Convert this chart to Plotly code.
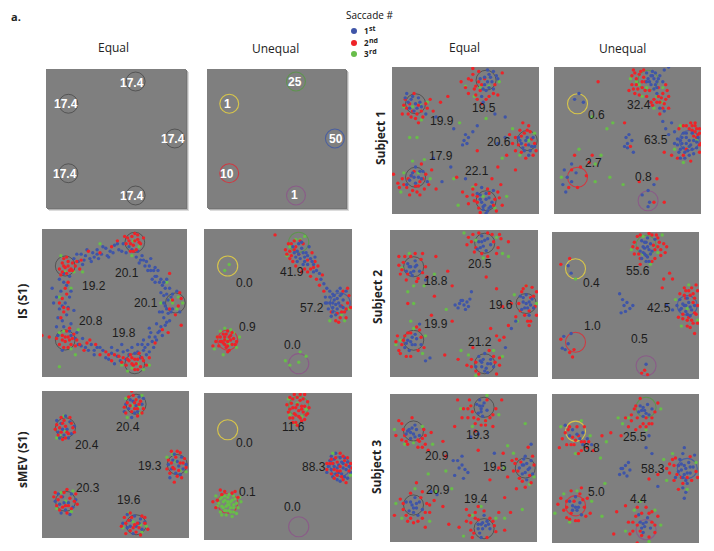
import plotly.graph_objects as go

W, H = 714, 551
BLUE, RED, GREEN = "#3f55a8", "#ee2328", "#68bd4a"
GREY = "#7f7f7f"

TARGETS = [(64, 91), (16, 75), (92, 50), (16, 25), (64, 9)]
TARGET_COLOURS = ["#5f9350", "#d8c64a", "#4a5fa0", "#cf3a42", "#8a5c88"]

IDEAL_EQ_LABELS = ["17.4", "17.4", "17.4", "17.4", "17.4"]
IDEAL_UN_LABELS = ["25", "1", "50", "10", "1"]
IS_EQ_LABELS = ["20.1", "19.2", "20.1", "20.8", "19.8"]
IS_UN_LABELS = ["41.9", "0.0", "57.2", "0.9", "0.0"]
SMEV_EQ_LABELS = ["20.4", "20.4", "19.3", "20.3", "19.6"]
SMEV_UN_LABELS = ["11.6", "0.0", "88.3", "0.1", "0.0"]
S1_EQ_LABELS = ["19.5", "19.9", "20.6", "17.9", "22.1"]
S1_UN_LABELS = ["32.4", "0.6", "63.5", "2.7", "0.8"]
S2_EQ_LABELS = ["20.5", "18.8", "19.6", "19.9", "21.2"]
S2_UN_LABELS = ["55.6", "0.4", "42.5", "1.0", "0.5"]
S3_EQ_LABELS = ["19.3", "20.9", "19.5", "20.9", "19.4"]
S3_UN_LABELS = ["25.5", "6.8", "58.3", "5.0", "4.4"]

IS_EQ_B = [(22,80),(25,78),(27,83),(30,82),(33,80),(28,76),(35,84),(38,86),(41,83),(44,87),(47,85),(50,89),(53,86),(56,90),(34,78),(39,80),(46,81),(60,88),(58,84),(66,85),(69,82),(72,78),(74,75),(77,72),(70,79),(73,72),(79,68),(81,64),(83,62),(85,60),(80,72),(76,66),(84,55),(87,52),(82,57),(88,60),(90,46),(87,43),(84,40),(86,37),(82,34),(80,30),(83,28),(78,27),(76,24),(73,22),(75,30),(79,36),(70,18),(72,15),(77,20),(68,13),(74,33),(60,15),(56,17),(58,12),(52,18),(54,11),(48,16),(50,9),(62,20),(64,16),(44,13),(42,18),(38,20),(34,22),(30,20),(28,26),(25,22),(36,15),(10,34),(14,38),(17,42),(12,46),(16,50),(19,54),(13,58),(17,62),(8,50),(20,36),(12,66),(15,70),(7,60),(22,45),(85,48),(88,38),(81,44),(78,74),(75,80),(67,77),(90,56),(86,66),(66,22),(70,25),(55,22),(48,20),(24,30),(20,28),(11,28),(14,18),(95,44),(93,58),
(24,83),(29,79),(31,86),(36,81),(42,88),(45,82),(49,84),(52,90),(55,85),(62,86),(68,79),(71,75),(75,72),(78,68),(82,66),(84,64),(78,64),(86,56),(89,54),(84,50),(86,46),(89,44),(83,44),(85,35),(81,31),(79,25),(74,27),(71,20),(74,17),(69,22),(66,17),(59,18),(52,14),(46,12),(40,20),(36,18),(32,18),(27,21),(23,26),(19,31),(15,34),(11,40),(18,47),(14,48),(10,54),(20,58),(15,64),(19,68),(38,83),(65,81)]
IS_EQ_R = [(14,77),(16,74),(18,78),(20,73),(12,73),(17,70),(21,77),(15,80),(23,75),(19,72),(13,69),(26,73),(60,92),(63,89),(66,93),(62,95),(68,90),(58,90),(65,86),(61,85),(70,94),(57,95),(64,97),(14,28),(16,24),(18,27),(20,22),(12,22),(17,31),(22,29),(24,25),(15,20),(19,33),(26,22),(10,26),(60,11),(63,8),(66,12),(64,5),(68,7),(61,15),(58,8),(70,11),(67,16),(56,13),(72,8),(53,14),(48,11),(44,17),(40,15),(90,52),(94,48),(96,53),(88,46),(92,42),(95,57),(16,60),(14,53),(18,46),(13,40),(18,64),(15,44),(40,84),(32,85),(27,79),(48,88),(78,23),(83,32),(87,30),(74,13),(33,25),(29,18),(5,27),(96,35),(88,70),(52,92),(0,28),
(15,75),(18,75),(21,72),(24,78),(17,81),(14,71),(61,90),(64,92),(67,91),(59,94),(63,85),(66,96),(16,27),(19,25),(21,26),(14,25),(23,21),(18,20),(62,9),(65,9),(62,13),(59,12),(66,5),(69,13),(64,12),(55,10),(50,15),(46,15),(15,47),(17,56),(12,50),(37,22),(31,23)]
IS_EQ_G = [(16,71),(22,71),(13,82),(28,71),(63,92),(60,88),(67,88),(62,82),(15,31),(12,30),(20,19),(25,32),(23,15),(62,6),(66,9),(59,4),(70,5),(55,8),(12,7),(90,50),(94,54),(88,52),(93,46),(97,50),(86,64),(82,50),(12,54),(20,60),(40,90),(74,8)]

IS_UN_B = [(60,88),(63,85),(66,87),(69,84),(62,81),(65,80),(68,81),(72,80),(70,76),(67,76),(74,76),(64,90),(71,88),(76,72),(78,70),(74,71),(79,66),(81,63),(83,60),(85,58),(87,56),(90,58),(92,55),(88,52),(85,50),(91,50),(94,52),(90,46),(87,47),(82,54),(84,46),(94,47),(89,42),(92,60),(96,58),(82,50),(86,41),
(61,84),(64,83),(67,84),(70,82),(73,78),(66,91),(68,78),(63,78),(75,81),(88,55),(90,53),(87,50),(92,48),(85,54),(93,56),(89,49),(83,50),(87,44)]
IS_UN_R = [(57,90),(58,85),(61,92),(64,83),(60,78),(67,90),(70,79),(73,84),(75,78),(72,73),(77,75),(59,82),(55,86),(68,73),(72,68),(76,66),(80,69),(78,62),(81,58),(93,48),(97,50),(95,44),(89,38),(92,40),(98,55),(96,40),(86,44),(97,60),(94,58),(48,96),(14,27),(16,24),(18,28),(12,24),(15,20),(19,22),(10,21),(20,26),(13,29),(17,18),(8,24),(16,31),(22,24),(14,22),(18,25),(11,27),(16,17),(6,21),
(59,90),(62,88),(65,92),(61,86),(56,83),(58,80),(62,75),(66,71),(70,71),(74,74),(90,43),(93,44),(96,46),(99,47),(91,37),(14,25),(17,27),(13,23),(16,21),(19,30),(11,24),(15,29),(21,22),(9,27)]
IS_UN_G = [(62,93),(58,88),(65,93),(56,82),(68,95),(93,42),(98,46),(85,38),(95,38),(15,25),(20,30),(11,31),(17,22),(22,20),(9,27),(24,27),(7,19),(14,33),(18,32),(13,15),(17,76),(14,72),(58,8),(64,10),(69,14),(55,11),(65,17)]

SMEV_EQ_B = [(60,94),(64,90),(66,96),(59,88),(63,85),(68,91),(13,78),(17,74),(15,70),(19,79),(11,72),(20,71),(89,53),(93,49),(95,55),(91,44),(96,47),(88,47),(14,28),(18,24),(16,19),(20,30),(21,21),(12,23),(60,12),(64,8),(67,13),(58,7),(68,6),(63,15),
(57,91),(62,93),(65,86),(69,95),(56,86),(61,82),(10,80),(14,74),(18,68),(22,76),(16,83),(12,68),(86,50),(92,52),(98,50),(90,57),(94,43),(87,41),(11,30),(15,24),(23,26),(19,16),(13,17),(9,25),(55,10),(60,8),(66,10),(70,11),(62,3),(58,16)]
SMEV_EQ_R = [(58,92),(62,97),(67,93),(61,86),(65,88),(56,89),(69,88),(63,92),(59,96),(12,75),(15,80),(18,71),(14,67),(21,75),(10,77),(16,76),(19,82),(13,72),(88,51),(91,55),(94,51),(97,54),(90,47),(92,42),(98,48),(87,44),(94,58),(11,26),(15,31),(19,27),(22,25),(14,21),(17,17),(18,22),(10,22),(23,30),(57,10),(61,14),(65,10),(68,15),(60,5),(64,4),(70,10),(56,14),(63,9),
(60,90),(64,94),(66,91),(57,85),(63,88),(68,85),(61,100),(65,83),(14,78),(17,72),(11,70),(20,78),(16,68),(9,74),(22,72),(13,82),(86,53),(89,48),(93,46),(96,51),(92,59),(85,47),(95,41),(90,38),(88,59),(13,28),(16,22),(20,20),(12,19),(8,28),(17,33),(24,23),(9,31),(59,12),(62,7),(66,7),(70,14),(54,8),(60,17),(67,2),(72,6),(57,3)]
SMEV_EQ_G = [(61,90),(66,89),(57,95),(68,97),(64,94),(16,73),(20,78),(12,70),(91,52),(94,46),(89,57),(16,25),(20,18),(13,31),(62,11),(67,9),(59,17),(55,7),(58,82),(67,85),(15,83),(10,68),(85,55),(98,45),(10,20),(21,32),(68,4),(71,8)]

SMEV_UN_B = [(87,52),(90,49),(93,53),(96,48),(89,45),(93,45),(86,48),(92,56),(97,53),(95,43),(88,55),(84,50),(91,51),(98,50),(94,49),(90,41),
(85,54),(88,50),(91,46),(95,56),(99,46),(87,43),(83,46),(94,52),(89,59),(97,42),(92,40),(86,57)]
SMEV_UN_R = [(59,93),(62,90),(65,95),(68,91),(61,86),(64,84),(67,87),(58,89),(70,94),(63,97),(60,83),(66,81),(70,86),(56,92),(64,88),(67,96),(60,96),(62,80),(66,91),(85,52),(88,48),(92,50),(95,54),(98,47),(90,44),(86,45),(94,41),(89,56),(96,51),(92,47),(83,48),(92,59),(99,52),(96,39),(12,31),(9,27),(19,32),(23,29),(8,22),(14,33),
(57,87),(60,90),(63,92),(66,89),(69,85),(62,85),(65,83),(58,83),(71,90),(61,99),(65,99),(68,99),(58,97),(60,80),(68,82),(63,78),(86,55),(90,47),(93,43),(97,56),(87,52),(83,52),(90,53),(100,49),(94,57),(88,42),(6,26),(11,34),(21,33)]
SMEV_UN_G = [(63,93),(58,85),(69,89),(57,96),(66,84),(14,27),(16,24),(18,26),(12,23),(17,20),(20,24),(14,20),(10,25),(21,28),(16,29),(18,22),(13,26),(23,22),(11,19),(20,19),(15,17),(25,26),(8,30),(17,31),(15,23),(12,29),(20,30),(19,16),(62,79),(87,59),(99,44),
(16,26),(13,22),(19,27),(11,28),(22,25),(18,19),(14,30),(9,23),(24,29),(15,20),(17,24),(20,22),(12,17),(22,18)]

S1_EQ_B = [(60,92),(63,88),(66,95),(68,90),(64,84),(61,80),(69,85),(65,98),(71,94),(62,76),(13,78),(16,75),(12,72),(18,79),(15,70),(20,73),(10,82),(23,68),(30,66),(88,48),(92,52),(95,46),(90,43),(96,52),(86,52),(93,40),(14,28),(18,25),(21,29),(12,23),(16,32),(10,20),(24,22),(34,22),(28,38),(40,32),(60,10),(63,6),(66,11),(62,3),(64,14),(58,14),(67,5),(61,18),(69,16),(50,24),(49,50),(51,48),(48,47),(52,52),(50,54),(55,56),(58,60),(42,58),(70,68),(77,66),(77,52),(72,48),
(65,90),(67,93),(69,97),(63,93),(62,85),(66,86),(72,92),(11,76),(14,80),(17,72),(9,79),(19,76),(89,45),(93,47),(91,50),(94,43),(87,50),(97,46),(15,25),(19,29),(13,26),(20,24),(16,21),(61,8),(64,10),(62,5),(65,2),(68,8),(60,13),(64,0.5),(66,4)]
S1_EQ_R = [(54,91),(57,87),(60,84),(55,95),(63,92),(58,78),(66,80),(70,88),(52,82),(72,81),(59,97),(47,90),(75,96),(10,72),(13,66),(17,68),(20,70),(24,72),(9,78),(15,82),(7,68),(26,78),(18,62),(33,76),(38,80),(86,47),(90,55),(94,56),(97,48),(84,43),(87,57),(91,38),(98,43),(80,54),(89,62),(78,40),(72,32),(10,18),(13,26),(16,19),(19,22),(23,27),(7,24),(12,13),(17,15),(22,17),(1,27),(4,21),(27,30),(20,34),(55,13),(58,8),(65,17),(70,10),(52,7),(72,15),(57,20),(68,24),(48,15),(75,6),(60,1),(74,20),(44,25),(84,30),(30,17),(58,43),
(56,85),(59,90),(52,92),(55,99),(61,88),(64,78),(69,82),(50,86),(57,81),(61,75),(12,75),(14,70),(18,74),(21,66),(11,68),(16,65),(23,75),(8,74),(28,70),(88,53),(92,57),(95,51),(88,42),(84,52),(93,60),(82,48),(91,47),(96,40),(11,24),(14,16),(18,19),(21,24),(8,20),(25,20),(15,29),(19,13),(5,18),(56,9),(59,4),(69,6),(73,11),(55,17),(71,2),(66,14),(51,12),(58,12)]
S1_EQ_G = [(60,86),(66,87),(56,80),(73,90),(50,87),(19,75),(14,73),(24,76),(8,73),(20,64),(93,50),(97,55),(87,40),(82,58),(14,36),(18,28),(26,24),(8,28),(22,37),(6,15),(62,12),(70,4),(55,18),(78,12),(45,6),(12,52),(17,52),(46,62),(64,65),(75,38),(42,24)]

S1_UN_B = [(64,92),(67,94),(70,90),(66,88),(69,96),(72,94),(63,96),(74,90),(68,85),(75,98),(78,100),(70,82),(72,72),(75,70),(74,63),(76,58),(78,54),(80,62),(82,56),(86,50),(90,52),(93,47),(88,45),(85,42),(91,43),(95,50),(97,45),(88,55),(94,55),(92,40),(84,47),(89,38),(98,52),(49,52),(50,48),(48,46),(51,54),(53,50),(54,42),(50,45),(17,82),(14,78),(20,76),(7,30),(9,25),(12,22),(15,28),(6,20),(12,34),(8,15),(60,13),(65,8),(64,5),(68,20),(64,16),
(65,90),(68,92),(71,92),(66,94),(69,88),(63,90),(67,97),(70,86),(87,48),(90,48),(92,50),(86,44),(94,44),(84,51),(89,42),(97,49),(87,52),(92,46),(90,55),(95,41),(86,38),(82,48)]
S1_UN_R = [(54,98),(56,92),(58,95),(60,90),(53,88),(57,85),(62,84),(61,93),(65,84),(68,78),(72,76),(74,82),(76,88),(71,86),(78,80),(66,76),(55,82),(75,75),(72,68),(78,72),(94,60),(96,56),(98,54),(92,58),(99,58),(88,60),(95,53),(100,48),(85,58),(90,44),(84,38),(99,42),(93,36),(12,30),(18,32),(22,26),(10,18),(16,18),(24,35),(14,40),(48,62),(52,46),(70,24),(75,8),(68,8),(58,22),(75,42),(80,40),(26,40),(30,90),
(53,94),(56,88),(59,97),(62,90),(51,84),(54,85),(58,81),(60,86),(63,80),(70,76),(73,79),(76,78),(67,74),(71,80),(74,72),(77,84),(61,98),(55,96),(96,60),(94,57),(97,58),(93,62),(99,55),(97,52),(90,60),(99,47),(96,62),(88,40)]
S1_UN_G = [(58,88),(63,86),(70,80),(74,86),(52,92),(60,80),(86,60),(92,46),(97,50),(82,44),(88,35),(26,66),(36,58),(40,62),(28,34),(32,40),(38,25),(28,22),(47,20),(17,44),(5,25),(68,72),(73,76),(56,90)]

S2_EQ_B = [(60,92),(63,89),(66,94),(62,96),(65,86),(68,90),(59,87),(13,75),(16,72),(18,76),(15,69),(11,72),(20,72),(17,79),(90,51),(93,47),(96,53),(92,56),(97,47),(88,55),(94,42),(89,46),(12,25),(15,22),(18,26),(13,18),(17,29),(10,20),(21,22),(62,10),(65,6),(68,12),(60,14),(64,16),(70,7),(58,7),(66,3),(50,49),(52,51),(48,52),(46,47),(54,53),(51,46),(44,49),(55,58),(27,13),(24,11),(82,33),(85,38),(78,20),(24,66),(20,36),
(62,92),(64,93),(61,88),(14,71),(14,75),(17,75),(12,77),(92,50),(94,51),(91,47),(95,49),(90,54),(14,24),(17,22),(11,23),(15,27),(63,12),(66,9),(62,7),(68,9),(61,11),(64,4),(49,52),(47,50),(53,48)]
S2_EQ_R = [(55,92),(58,88),(62,84),(70,92),(73,88),(56,97),(69,97),(75,94),(52,90),(66,82),(80,92),(9,78),(11,66),(14,82),(19,67),(21,80),(7,70),(24,75),(6,82),(25,68),(31,82),(88,45),(91,42),(95,38),(97,55),(99,42),(87,50),(90,60),(96,61),(85,41),(82,50),(94,35),(8,22),(10,28),(14,30),(19,18),(21,27),(5,28),(6,18),(14,14),(18,34),(55,12),(58,4),(70,14),(74,8),(56,20),(72,2),(52,8),(46,12),(37,15),(77,27),(72,28),(74,25),(39,72),(42,62),(30,55),(42,38),(28,42),(12,50),(65,68),(76,48),(68,33),(72,60),(80,35),
(57,85),(66,98),(72,84),(60,98),(53,95),(74,97),(8,73),(12,70),(10,82),(17,84),(22,71),(18,65),(6,76),(22,84),(94,45),(98,48),(92,62),(95,54),(99,58),(89,58),(93,38),(9,25),(12,30),(7,16),(20,32),(23,20),(11,14),(4,24),(58,10),(55,7),(71,10),(67,18),(60,2),(74,13)]
S2_EQ_G = [(58,93),(72,95),(63,81),(76,84),(50,98),(13,84),(8,74),(16,62),(23,62),(12,58),(16,50),(92,62),(86,38),(99,50),(84,56),(7,25),(16,33),(22,16),(4,22),(14,38),(53,15),(70,18),(58,1),(48,18),(76,14),(30,70),(38,46),(24,28),(80,82)]

S2_UN_B = [(62,90),(64,93),(66,88),(63,85),(67,92),(61,94),(65,83),(68,87),(70,95),(60,87),(65,96),(64,80),(90,50),(93,52),(95,47),(91,46),(88,48),(94,43),(85,50),(87,54),(92,55),(82,47),(97,50),(49,50),(51,52),(53,48),(50,46),(47,45),(55,50),(48,54),(46,58),(11,77),(13,72),(8,29),(11,24),(7,21),(13,31),(9,20),(64,10),(78,50),
(63,89),(65,90),(62,86),(64,84),(67,85),(61,82),(66,80),(63,93),(91,50),(94,49),(89,51),(92,44),(87,47)]
S2_UN_R = [(56,93),(58,89),(60,82),(58,97),(72,90),(74,84),(70,82),(76,92),(72,96),(56,85),(68,98),(68,80),(60,78),(78,90),(91,60),(94,57),(97,55),(99,60),(89,44),(92,40),(96,38),(98,44),(94,35),(90,62),(87,58),(99,50),(97,31),(86,42),(76,68),(75,62),(80,72),(82,68),(12,82),(6,78),(15,20),(12,18),(6,27),(14,15),(61,4),(65,3),(63,6),
(70,88),(73,93),(69,91),(74,88),(71,98),(66,99),(60,98),(77,86),(55,90),(59,85),(93,60),(96,58),(95,62),(98,64),(91,55),(97,45),(93,42),(95,40),(89,41),(99,38),(96,52),(92,36),(90,57)]
S2_UN_G = [(62,97),(72,86),(67,78),(75,98),(54,88),(93,64),(88,36),(84,54),(99,40),(92,48),(16,68),(62,85)]

S3_EQ_B = [(59,93),(62,90),(64,94),(60,87),(66,89),(63,85),(61,96),(13,76),(16,73),(18,76),(14,70),(11,73),(17,79),(20,72),(91,52),(94,49),(90,46),(96,55),(88,50),(93,42),(92,58),(97,46),(15,25),(18,23),(20,27),(13,21),(17,30),(22,22),(11,27),(19,18),(60,12),(63,9),(66,14),(61,6),(68,9),(64,18),(49,52),(51,49),(47,50),(46,55),(53,47),(44,45),(50,43),(43,55),(49,58),(60,73),(55,71),(71,60),(32,32),(28,34),(96,66),
(61,92),(63,92),(62,88),(14,74),(15,77),(12,75),(17,71),(93,53),(92,47),(95,50),(91,56),(16,23),(18,26),(14,27),(16,20),(62,12),(65,11),(60,9),(63,13),(67,12),(62,3),(90,52)]
S3_EQ_R = [(50,90),(53,84),(56,88),(54,96),(58,80),(62,79),(68,84),(72,90),(66,96),(49,84),(58,75),(70,78),(46,96),(76,96),(9,76),(8,69),(12,66),(19,64),(22,70),(24,66),(6,82),(15,84),(28,74),(4,72),(26,62),(84,48),(86,56),(88,43),(95,45),(98,52),(83,55),(80,44),(92,37),(86,36),(77,60),(74,50),(94,64),(9,22),(12,14),(16,13),(22,16),(25,26),(27,20),(7,29),(14,33),(22,34),(30,28),(3,18),(24,10),(52,14),(55,8),(58,16),(70,14),(72,7),(56,3),(66,3),(52,22),(60,24),(74,20),(47,10),(78,8),(36,24),(36,68),(38,58),(44,78),(78,30),(82,20),(18,40),(60,62),(68,42),(40,12),
(55,92),(57,84),(60,83),(65,82),(70,86),(53,90),(65,79),(20,68),(23,76),(19,69),(22,64),(11,68),(24,72),(10,72),(8,80),(87,48),(89,54),(85,53),(90,41),(96,40),(97,58),(9,26),(11,18),(14,16),(19,14),(24,20),(21,30),(27,25),(55,13),(57,6),(58,20),(68,16),(71,11),(60,15),(64,21),(54,18)]
S3_EQ_G = [(55,92),(65,82),(48,90),(74,86),(56,78),(66,99),(10,66),(22,78),(16,67),(3,76),(29,66),(84,60),(95,39),(98,44),(78,50),(80,65),(8,16),(17,36),(27,14),(31,34),(4,26),(56,18),(72,16),(50,4),(62,24),(78,16),(38,48),(26,46),(90,22),(92,80),(42,36)]

S3_UN_B = [(60,92),(63,89),(65,93),(62,85),(66,86),(59,88),(68,90),(14,76),(17,73),(19,70),(21,74),(12,72),(24,70),(9,79),(27,66),(88,53),(91,50),(93,54),(90,46),(86,48),(94,47),(87,56),(96,51),(84,44),(92,40),(89,60),(97,59),(91,34),(14,25),(17,22),(19,27),(12,28),(20,19),(16,31),(60,14),(63,11),(65,17),(62,7),(67,10),(59,19),(50,52),(49,47),(47,50),(52,54),(51,45),(46,46),(53,49),(64,64),(68,60),(90,30),(21,66),(89,37),(66,72),(72,38),(90,64),(48,50),
(62,91),(64,87),(61,89),(88,49),(90,52),(92,47),(89,44),(94,51),(86,52),(91,42),(16,24),(14,22),(18,24),(62,13),(64,14),(61,10)]
S3_UN_R = [(56,90),(58,84),(62,80),(66,80),(68,84),(54,86),(70,88),(60,97),(52,78),(57,76),(72,94),(47,72),(40,74),(34,72),(11,76),(14,71),(17,78),(15,66),(20,68),(22,78),(7,70),(10,66),(24,64),(9,74),(28,62),(18,60),(5,64),(86,52),(88,44),(83,52),(80,47),(78,50),(84,57),(92,44),(95,42),(98,48),(94,58),(89,40),(86,36),(72,46),(66,43),(10,24),(13,20),(15,28),(22,24),(24,30),(10,17),(18,15),(6,30),(26,20),(4,26),(13,35),(20,37),(58,12),(61,5),(57,18),(66,20),(68,14),(70,7),(55,8),(72,18),(64,24),(52,14),(58,0),(50,25),(44,21),(42,6),
(54,82),(57,92),(60,78),(64,84),(68,80),(50,84),(64,78),(18,72),(22,68),(16,69),(13,66),(25,68),(12,78),(20,62),(85,46),(82,56),(80,53),(83,42),(99,44),(10,28),(12,16),(16,15),(21,29),(23,18),(8,22),(19,33),(60,8),(55,14),(68,21),(70,12),(61,20),(53,6),(66,4),(58,24)]
S3_UN_G = [(52,84),(64,76),(48,80),(74,90),(45,84),(37,68),(6,78),(20,82),(26,72),(16,60),(33,57),(82,60),(78,42),(92,36),(98,54),(76,56),(8,33),(17,35),(27,28),(12,14),(2,20),(56,22),(70,22),(50,8),(74,12),(66,1),(60,28),(36,40),(34,18)]

PANELS = [
    dict(box=(46, 186, 69, 208), eq=True, ideal=True, shadow=True),
    dict(box=(207, 346, 69, 208), eq=False, ideal=True, shadow=True),
    dict(box=(42, 187, 229, 377), eq=True, pts=(IS_EQ_B, IS_EQ_G, IS_EQ_R), order="gbr"),
    dict(box=(204, 352, 229, 377), eq=False, pts=(IS_UN_B, IS_UN_G, IS_UN_R), order="grb"),
    dict(box=(42, 189, 391, 538), eq=True, pts=(SMEV_EQ_B, SMEV_EQ_G, SMEV_EQ_R), order="gbr"),
    dict(box=(204, 352, 393, 540), eq=False, pts=(SMEV_UN_B, SMEV_UN_G, SMEV_UN_R), order="bgr"),
    dict(box=(392, 539, 67, 214), eq=True, pts=(S1_EQ_B, S1_EQ_G, S1_EQ_R), order="grb"),
    dict(box=(554, 701, 67, 214), eq=False, pts=(S1_UN_B, S1_UN_G, S1_UN_R), order="grb"),
    dict(box=(390, 538, 230, 377), eq=True, pts=(S2_EQ_B, S2_EQ_G, S2_EQ_R), order="grb"),
    dict(box=(552, 699, 232, 379), eq=False, pts=(S2_UN_B, S2_UN_G, S2_UN_R), order="grb"),
    dict(box=(390, 537, 394, 542), eq=True, pts=(S3_EQ_B, S3_EQ_G, S3_EQ_R), order="grb"),
    dict(box=(552, 699, 394, 543), eq=False, pts=(S3_UN_B, S3_UN_G, S3_UN_R), order="grb"),
]

LABELS = [
    (IDEAL_EQ_LABELS, [(132,83),(66,104),(173,139),(65,174),(132,196)], "white"),
    (IDEAL_UN_LABELS, [(295,82),(227,104),(336,139),(227,174),(294,195)], "white"),
    (IS_EQ_LABELS, [(127,273),(94,286),(146,303),(91,321),(124,333)], "#1c1c1c"),
    (IS_UN_LABELS, [(292,272),(244,283),(312,308),(247,327),(292,345)], "#1c1c1c"),
    (SMEV_EQ_LABELS, [(128,427),(87,445),(150,466),(88,488),(129,500)], "#1c1c1c"),
    (SMEV_UN_LABELS, [(293,427),(244,443),(314,467),(247,492),(292,507)], "#1c1c1c"),
    (S1_EQ_LABELS, [(484,108),(442,121),(499,142),(441,156),(477,171)], "#1c1c1c"),
    (S1_UN_LABELS, [(639,105),(596,115),(656,140),(593,163),(643,177)], "#1c1c1c"),
    (S2_EQ_LABELS, [(480,264),(436,281),(501,305),(436,324),(480,342)], "#1c1c1c"),
    (S2_UN_LABELS, [(638,271),(591,283),(659,308),(592,326),(639,339)], "#1c1c1c"),
    (S3_EQ_LABELS, [(478,435),(437,456),(495,467),(438,490),(476,499)], "#1c1c1c"),
    (S3_UN_LABELS, [(635,437),(591,448),(653,469),(596,492),(638,499)], "#1c1c1c"),
]

LEGEND_DIGITS = ["1", "2", "3"]
LEGEND_SUFFIXES = ["st", "nd", "rd"]

fx = lambda x: x / W
fy = lambda y: 1 - y / H

fig = go.Figure()
shapes, annotations = [], []
colour = {"b": BLUE, "g": GREEN, "r": RED}
layout_axes = {}

for i, p in enumerate(PANELS, start=1):
    x0, x1, y0, y1 = p["box"]
    sfx = "" if i == 1 else str(i)
    layout_axes[f"xaxis{sfx}"] = dict(domain=[fx(x0), fx(x1)], range=[0, 100], visible=False, anchor=f"y{sfx}", fixedrange=True)
    layout_axes[f"yaxis{sfx}"] = dict(domain=[fy(y1), fy(y0)], range=[0, 100], visible=False, anchor=f"x{sfx}", fixedrange=True)
    if p.get("shadow"):
        for off, col in [(3, "#dcdcdc"), (2, "#b0b0b0"), (1, "#757575")]:
            shapes.append(dict(type="rect", xref="paper", yref="paper", x0=fx(x0 + off), x1=fx(x1 + off),
                               y0=fy(y1 + off), y1=fy(y0 + off), fillcolor=col, line_width=0, layer="below"))
    shapes.append(dict(type="rect", xref="paper", yref="paper", x0=fx(x0), x1=fx(x1), y0=fy(y1), y1=fy(y0),
                       fillcolor=GREY, line_width=0, layer="below"))
    for j, (u, v) in enumerate(TARGETS):
        r = 6.8
        col = "rgba(45,45,45,0.65)" if p["eq"] else TARGET_COLOURS[j]
        shapes.append(dict(type="circle", xref=f"x{sfx}", yref=f"y{sfx}", x0=u - r, x1=u + r, y0=v - r, y1=v + r,
                           line=dict(color=col, width=0.8 if p["eq"] else 1.1), layer="below"))
    if "pts" in p:
        b, g, r_ = p["pts"]
        d = {"b": b, "g": g, "r": r_}
        for key in p["order"]:
            fig.add_trace(go.Scatter(x=[q[0] for q in d[key]], y=[q[1] for q in d[key]], mode="markers",
                                     marker=dict(size=3.4, color=colour[key], line_width=0),
                                     xaxis=f"x{sfx}", yaxis=f"y{sfx}", showlegend=False, hoverinfo="skip"))
    else:
        fig.add_trace(go.Scatter(x=[None], y=[None], mode="markers", xaxis=f"x{sfx}", yaxis=f"y{sfx}",
                                 showlegend=False, hoverinfo="skip"))


def note(text, x, y, size, col="#222", bold=False, family="Liberation Sans", angle=0, xanchor="center"):
    annotations.append(dict(text=f"<b>{text}</b>" if bold else text, x=fx(x), y=fy(y), xref="paper", yref="paper",
                            showarrow=False, xanchor=xanchor, yanchor="middle", textangle=angle,
                            font=dict(size=size, color=col, family=family)))


for texts, positions, col in LABELS:
    white = col == "white"
    for t, (x, y) in zip(texts, positions):
        note(t, x, y, 12, col=col, bold=white)

for t, x, y in [("Equal", 113, 47), ("Unequal", 275, 48), ("Equal", 464, 47), ("Unequal", 622, 48)]:
    note(t, x, y, 12, family="Open Sans")
note("a.", 16, 16, 11, bold=True, family="Open Sans")
note("Saccade #", 370, 15, 10, family="Open Sans", col="#111")
for t, x, y in [("IS (S1)", 22, 302), ("sMEV (S1)", 22, 460), ("Subject 1", 380, 138),
                ("Subject 2", 377, 297), ("Subject 3", 376, 467)]:
    note(t, x, y, 12, bold=True, family="Open Sans", angle=-90)

for col, digit, suffix, y in zip([BLUE, RED, GREEN], LEGEND_DIGITS, LEGEND_SUFFIXES, [31, 43, 54]):
    shapes.append(dict(type="circle", xref="paper", yref="paper", x0=fx(351), x1=fx(357), y0=fy(y + 3), y1=fy(y - 3),
                       fillcolor=col, line_width=0))
    note(digit, 362, y, 8, bold=True, family="Open Sans", xanchor="left")
    note(suffix, 367, y - 3, 7, bold=True, family="Open Sans", xanchor="left")

fig.update_layout(width=W, height=H, margin=dict(l=0, r=0, t=0, b=0), paper_bgcolor="white",
                  plot_bgcolor="rgba(0,0,0,0)", shapes=shapes, annotations=annotations, showlegend=False, **layout_axes)
fig.write_html("out.html", config={"displayModeBar": False}, post_script="document.body.style.margin='0';")
